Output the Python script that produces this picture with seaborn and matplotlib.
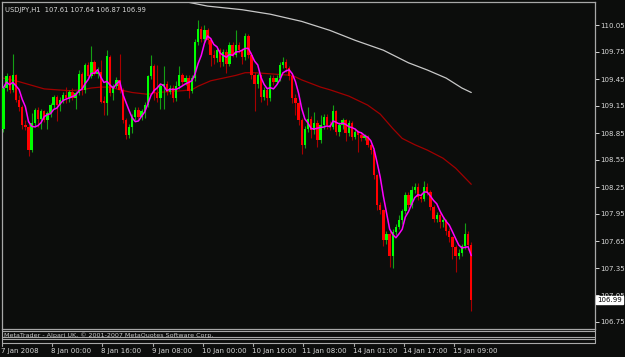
import numpy as np
import pandas as pd
import matplotlib
matplotlib.use("Agg")
import matplotlib.pyplot as plt
import seaborn as sns
from matplotlib.lines import Line2D

# ---------------- data ----------------
title_text = "USDJPY,H1  107.61 107.64 106.87 106.99"
footer_text = "MetaTrader - Alpari UK, \u00a9 2001-2007 MetaQuotes Software Corp."

opens = [108.90, 109.35, 109.48, 109.33, 109.49, 109.22, 109.14, 108.94, 108.92, 108.66,
         108.96, 109.11, 109.01, 109.09, 108.99, 109.07, 109.16, 109.25, 109.16, 109.22,
         109.27, 109.24, 109.31, 109.24, 109.29, 109.51, 109.33, 109.61, 109.48, 109.64,
         109.51, 109.53, 109.20, 109.18, 109.70, 109.29, 109.37, 109.44, 109.33, 108.99,
         108.83, 108.92, 109.03, 109.11, 109.03, 109.09, 109.16, 109.48, 109.59, 109.29,
         109.24, 109.37, 109.40, 109.31, 109.35, 109.24, 109.37, 109.49, 109.42, 109.46,
         109.32, 109.46, 109.86, 110.01, 109.90, 109.99, 109.88, 109.72, 109.68, 109.77,
         109.64, 109.75, 109.62, 109.83, 109.72, 109.83, 109.77, 109.70, 109.93, 109.72,
         109.49, 109.40, 109.49, 109.25, 109.33, 109.24, 109.46, 109.42, 109.46, 109.61,
         109.64, 109.57, 109.48, 109.24, 109.18, 108.99, 108.72, 108.90, 109.01, 108.88,
         108.96, 108.77, 108.94, 109.03, 108.94, 108.92, 109.09, 108.86, 108.94, 108.99,
         108.85, 108.96, 108.81, 108.86, 108.83, 108.80, 108.81, 108.72, 108.66, 108.38,
         108.05, 107.99, 107.66, 107.73, 107.48, 107.75, 107.81, 107.88, 107.98, 108.16,
         108.05, 108.22, 108.25, 108.14, 108.12, 108.25, 108.20, 108.03, 107.90, 107.94,
         107.86, 107.88, 107.76, 107.69, 107.58, 107.48, 107.52, 107.59, 107.73, 107.61]

highs = [109.37, 109.52, 109.50, 109.73, 109.51, 109.27, 109.16, 109.00, 108.98, 109.07,
         109.13, 109.14, 109.12, 109.11, 109.09, 109.18, 109.27, 109.27, 109.25, 109.31,
         109.36, 109.33, 109.35, 109.32, 109.55, 109.53, 109.63, 109.64, 109.82, 109.66,
         109.58, 109.66, 109.26, 109.77, 109.72, 109.40, 109.47, 109.73, 109.35, 109.02,
         108.95, 109.06, 109.14, 109.14, 109.12, 109.19, 109.50, 109.72, 109.62, 109.61,
         109.40, 109.60, 109.43, 109.38, 109.38, 109.43, 109.59, 109.52, 109.50, 109.49,
         109.49, 109.89, 110.11, 110.04, 110.05, 110.02, 109.91, 109.77, 109.80, 109.80,
         109.78, 109.78, 109.86, 109.86, 110.00, 109.86, 109.80, 109.96, 109.95, 109.75,
         109.53, 109.52, 109.51, 109.36, 109.36, 109.49, 109.50, 109.49, 109.64, 109.69,
         109.67, 109.60, 109.51, 109.28, 109.21, 109.02, 108.93, 109.14, 109.04, 109.08,
         108.99, 109.05, 109.06, 109.06, 108.98, 109.16, 109.11, 108.97, 109.02, 109.01,
         108.99, 108.98, 108.89, 108.88, 108.86, 108.84, 108.83, 108.75, 108.68, 108.40,
         108.08, 108.01, 107.76, 107.76, 107.78, 107.84, 107.94, 108.01, 108.20, 108.19,
         108.26, 108.29, 108.30, 108.18, 108.32, 108.29, 108.22, 108.05, 107.97, 107.98,
         107.92, 107.90, 107.79, 107.71, 107.61, 107.56, 107.62, 107.85, 107.76, 107.64]

lows = [108.86, 109.32, 109.30, 109.31, 109.19, 109.10, 108.90, 108.88, 108.59, 108.64,
        108.92, 108.92, 108.90, 108.97, 108.90, 109.03, 109.13, 108.98, 109.10, 109.18,
        109.18, 109.20, 109.22, 109.12, 109.27, 109.27, 109.30, 109.45, 109.46, 109.49,
        109.46, 109.18, 109.05, 109.05, 109.26, 109.22, 109.35, 109.30, 108.96, 108.78,
        108.80, 108.85, 109.00, 109.01, 109.00, 109.02, 109.14, 109.45, 109.22, 109.20,
        109.12, 109.12, 109.27, 109.28, 109.19, 109.21, 109.34, 109.38, 109.38, 109.24,
        109.29, 109.43, 109.83, 109.86, 109.86, 109.84, 109.60, 109.62, 109.64, 109.58,
        109.60, 109.52, 109.59, 109.69, 109.69, 109.74, 109.62, 109.66, 109.68, 109.45,
        109.09, 109.35, 109.20, 109.22, 109.16, 109.21, 109.38, 109.39, 109.43, 109.57,
        109.53, 109.44, 109.18, 109.05, 108.94, 108.62, 108.68, 108.86, 108.80, 108.84,
        108.70, 108.74, 108.90, 108.90, 108.88, 108.89, 108.83, 108.82, 108.90, 108.76,
        108.82, 108.77, 108.78, 108.64, 108.76, 108.77, 108.69, 108.62, 108.34, 108.00,
        107.95, 107.60, 107.62, 107.36, 107.35, 107.72, 107.78, 107.84, 107.95, 108.02,
        108.02, 108.18, 108.11, 108.08, 108.09, 108.16, 107.99, 107.86, 107.86, 107.80,
        107.81, 107.72, 107.64, 107.45, 107.31, 107.45, 107.48, 107.56, 107.55, 106.87]

closes = [109.35, 109.48, 109.33, 109.49, 109.22, 109.14, 108.94, 108.92, 108.66, 108.96,
          109.11, 109.01, 109.09, 108.99, 109.07, 109.16, 109.25, 109.16, 109.22, 109.27,
          109.24, 109.31, 109.24, 109.29, 109.51, 109.33, 109.61, 109.48, 109.64, 109.51,
          109.53, 109.20, 109.18, 109.70, 109.29, 109.37, 109.44, 109.33, 108.99, 108.83,
          108.92, 109.03, 109.11, 109.03, 109.09, 109.16, 109.48, 109.59, 109.29, 109.24,
          109.37, 109.40, 109.31, 109.35, 109.24, 109.37, 109.49, 109.42, 109.46, 109.32,
          109.46, 109.86, 110.01, 109.90, 109.99, 109.88, 109.72, 109.68, 109.77, 109.64,
          109.75, 109.62, 109.83, 109.72, 109.83, 109.77, 109.70, 109.93, 109.72, 109.49,
          109.40, 109.49, 109.25, 109.33, 109.24, 109.46, 109.42, 109.46, 109.61, 109.64,
          109.57, 109.48, 109.24, 109.18, 108.99, 108.72, 108.90, 109.01, 108.88, 108.96,
          108.77, 108.94, 109.03, 108.94, 108.92, 109.09, 108.86, 108.94, 108.99, 108.85,
          108.96, 108.81, 108.86, 108.83, 108.80, 108.81, 108.72, 108.66, 108.38, 108.05,
          107.99, 107.66, 107.73, 107.48, 107.75, 107.81, 107.88, 107.98, 108.16, 108.05,
          108.22, 108.25, 108.14, 108.12, 108.25, 108.20, 108.03, 107.90, 107.94, 107.86,
          107.88, 107.76, 107.69, 107.58, 107.48, 107.52, 107.59, 107.73, 107.61, 106.99]

red_ma_bars = [0, 5, 9, 13, 17, 21, 25, 28, 31, 34, 37, 41, 46, 49, 53, 57, 60, 62, 66, 70,
               74, 77, 80, 84, 88, 92, 95, 98, 101, 104, 110, 116, 120, 124, 127, 131, 135,
               140, 144, 149]
red_ma_vals = [109.46, 109.42, 109.38, 109.34, 109.33, 109.32, 109.33, 109.35, 109.36, 109.36,
               109.33, 109.30, 109.28, 109.30, 109.31, 109.32, 109.33, 109.37, 109.43, 109.46,
               109.49, 109.52, 109.52, 109.51, 109.50, 109.49, 109.44, 109.40, 109.36, 109.33,
               109.26, 109.16, 109.06, 108.90, 108.79, 108.72, 108.66, 108.57, 108.46, 108.28]

white_ma_bars = [55, 65, 76, 85, 95, 104, 112, 121, 129, 135, 141, 146, 149]
white_ma_vals = [110.33, 110.26, 110.22, 110.17, 110.09, 109.99, 109.88, 109.77, 109.63,
                 109.55, 109.46, 109.35, 109.30]

price_ticks = [110.05, 109.75, 109.45, 109.15, 108.85, 108.55, 108.25, 107.95, 107.65,
               107.35, 107.05, 106.75]
time_labels = ["7 Jan 2008", "8 Jan 00:00", "8 Jan 16:00", "9 Jan 08:00", "10 Jan 00:00",
               "10 Jan 16:00", "11 Jan 08:00", "14 Jan 01:00", "14 Jan 17:00", "15 Jan 09:00"]
time_label_bars = [0, 16, 32, 48, 64, 80, 96, 112, 128, 144]
last_price = 106.99

# ---------------- style ----------------
sns.set_style("dark")
plt.rcParams["font.family"] = ["DejaVu Sans"]
BG = "#0c0d0c"
FG = "#d8d8d8"
BORDER = "#a8a8a8"

W, H = 625, 357
fig = plt.figure(figsize=(W / 100, H / 100), dpi=100, facecolor=BG)


def fx(px):
    return px / W


def fy(py):
    return 1 - py / H


ax_left, ax_right, ax_top, ax_bot = 2, 595, 2, 329
ax = fig.add_axes([fx(ax_left), fy(ax_bot), fx(ax_right - ax_left), (ax_bot - ax_top) / H])
ax.set_facecolor(BG)

px_per_bar = 3.14
x0 = -0.45
ax.set_xlim(x0, x0 + (ax_right - ax_left) / px_per_bar)
ax.set_ylim(110.05 - (ax_bot - 25) / 90.0, 110.05 + (25 - ax_top) / 90.0)

df = pd.DataFrame({"bar": np.arange(len(closes)), "open": opens, "high": highs,
                   "low": lows, "close": closes})
df["ma_fast"] = df["close"].rolling(5, min_periods=1).mean()
bull = df["close"] >= df["open"]

# wicks
wick_colors = np.where(bull, "#14a014", "#a80000")
ax.vlines(df["bar"], df["low"], df["high"], colors=wick_colors, linewidth=0.8, zorder=2)
# bodies
body_h = np.maximum((df["close"] - df["open"]).abs(), 0.012)
body_b = np.minimum(df["open"], df["close"])
body_c = np.where(bull, "#00ff00", "#ff0000")
ax.bar(df["bar"], body_h, bottom=body_b, width=0.75, color=body_c, linewidth=0, zorder=3)

# moving averages
red_df = pd.DataFrame({"bar": red_ma_bars, "val": red_ma_vals})
white_df = pd.DataFrame({"bar": white_ma_bars, "val": white_ma_vals})
sns.lineplot(data=red_df, x="bar", y="val", ax=ax, color="#a00000", linewidth=0.9, zorder=1)
sns.lineplot(data=white_df, x="bar", y="val", ax=ax, color="#c8c8c8", linewidth=0.9, zorder=1)
sns.lineplot(data=df, x="bar", y="ma_fast", ax=ax, color="#ff00ff", linewidth=1.1, zorder=4)

ax.set_xlabel("")
ax.set_ylabel("")
ax.grid(False)
for side in ["left", "top", "right", "bottom"]:
    ax.spines[side].set_visible(True)
    ax.spines[side].set_color(BORDER)
    ax.spines[side].set_linewidth(0.9)

ax.yaxis.tick_right()
ax.set_yticks(price_ticks)
ax.set_yticklabels([f"{p:.2f}" for p in price_ticks])
ax.tick_params(axis="y", colors=FG, labelcolor=FG, length=3, width=0.7, pad=0.5,
               labelsize=5.0, direction="out")
ax.set_xticks([])

# top-left text
ax.text(0.005, 0.985, title_text, transform=ax.transAxes,
        color=FG, fontsize=4.9, ha="left", va="top")

# current price label
ax.text(1.0 + 2.0 / (ax_right - ax_left), last_price, f"{last_price:.2f}",
        transform=ax.get_yaxis_transform(), fontsize=5.0, color="#000000",
        ha="left", va="center",
        bbox=dict(boxstyle="square,pad=0.15", facecolor="#ffffff", edgecolor="#ffffff"))

# bottom sub-window lines and footer text
for yy in [331, 337, 339, 343]:
    fig.add_artist(Line2D([fx(ax_left), fx(ax_right)], [fy(yy), fy(yy)],
                          color=BORDER, linewidth=0.8))
for xx in [ax_left, ax_right]:
    fig.add_artist(Line2D([fx(xx), fx(xx)], [fy(329), fy(343)], color=BORDER, linewidth=0.8))
fig.text(fx(4), fy(335), footer_text, color="#c8c8c8", fontsize=4.6, ha="left", va="center")

# time axis ticks + labels
for b, lab in zip(time_label_bars, time_labels):
    px = ax_left + (b - x0) * px_per_bar - 1.5
    fig.add_artist(Line2D([fx(px), fx(px)], [fy(343), fy(346)], color=BORDER, linewidth=0.8))
    fig.text(fx(px - 1), fy(351), lab, color=FG, fontsize=5.0, ha="left", va="center")

fig.savefig("out.png", dpi=100, facecolor=BG)
